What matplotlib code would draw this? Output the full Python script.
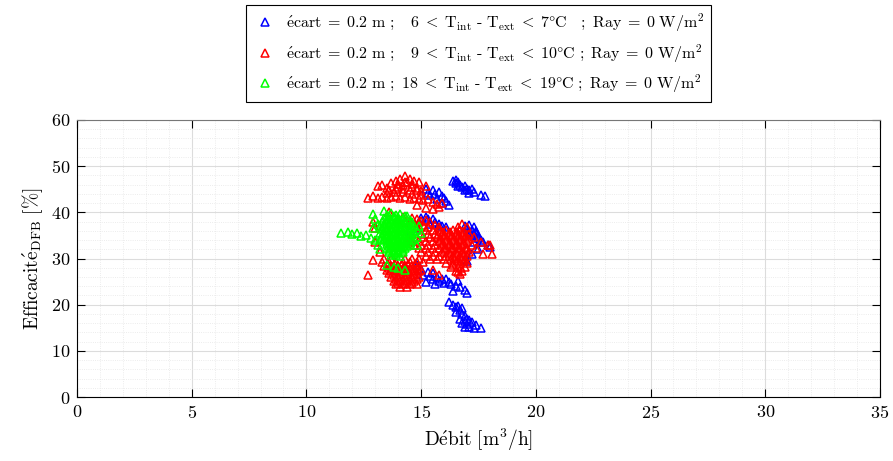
import numpy as np
import matplotlib
matplotlib.use("Agg")
import matplotlib.pyplot as plt

blue_pts = [
    (16.4, 46.8), (16.5, 47.0), (16.5, 46.3), (16.6, 46.5), (16.7, 46.0), (16.8, 45.5),
    (16.9, 45.6), (17.0, 45.0), (17.1, 44.8), (17.2, 45.1), (17.3, 44.3), (17.6, 43.8),
    (17.8, 43.5), (16.6, 45.8), (16.9, 44.9), (17.1, 44.2),
    (15.2, 45.0), (15.4, 43.8), (15.5, 44.8), (15.6, 44.0), (15.7, 42.8), (15.8, 44.5),
    (15.9, 43.5), (16.0, 43.0), (16.1, 42.5), (16.2, 41.5), (15.3, 44.2), (15.9, 42.0),
    (15.0, 38.8), (15.2, 39.0), (15.3, 38.5), (15.4, 37.5), (15.5, 38.6), (15.6, 38.0),
    (15.8, 37.5), (15.9, 37.0), (16.1, 36.8), (14.5, 36.0), (14.8, 36.5),
    (16.9, 37.0), (17.0, 36.5), (17.1, 37.2), (17.2, 36.2), (17.3, 36.8), (17.4, 35.5),
    (17.2, 35.0), (17.5, 34.5), (17.6, 34.0), (17.7, 33.5), (17.9, 33.0), (18.0, 32.5),
    (17.3, 33.5), (17.5, 32.0), (17.2, 31.0), (16.9, 30.0), (17.0, 29.5), (17.4, 36.0),
    (17.1, 35.8), (17.3, 35.2), (17.5, 35.0),
    (14.8, 28.5), (15.0, 27.8), (15.1, 26.5), (15.3, 27.0), (15.4, 26.2), (15.5, 25.5),
    (15.7, 26.0), (15.8, 25.2), (15.9, 25.5), (16.0, 24.8), (16.2, 25.0), (16.3, 24.5),
    (16.5, 24.0), (16.7, 23.8), (16.9, 23.2), (17.0, 22.5), (16.4, 23.0), (15.2, 25.0),
    (15.6, 24.5), (16.6, 25.2), (15.5, 26.8), (16.1, 25.6),
    (16.2, 20.5), (16.4, 20.0), (16.5, 19.5), (16.6, 19.8), (16.7, 18.8), (16.8, 18.0),
    (16.9, 17.5), (16.9, 16.5), (17.0, 17.0), (17.0, 15.8), (17.1, 15.2), (17.2, 16.2),
    (17.3, 15.0), (17.4, 15.5), (17.6, 15.0), (16.7, 17.0), (16.5, 18.5), (16.8, 16.0),
    (16.8, 19.2), (17.1, 16.6), (16.9, 15.2),
]

red_pts = [
    # upper group
    (12.7, 43.2), (12.9, 43.5), (13.1, 43.1), (13.3, 43.4), (13.5, 43.0), (13.7, 43.3),
    (13.9, 43.6), (14.1, 43.1), (14.3, 43.4), (14.5, 42.9), (14.7, 43.2), (14.9, 42.8),
    (15.1, 42.6), (15.3, 42.9), (15.5, 42.2), (15.7, 41.8), (15.9, 42.0), (14.8, 41.5),
    (15.2, 41.0), (15.5, 40.8), (15.8, 41.2),
    (13.1, 45.6), (13.3, 46.0), (13.5, 45.2), (13.7, 46.3), (13.9, 46.8), (14.0, 45.5),
    (14.1, 47.2), (14.2, 46.0), (14.3, 47.8), (14.4, 46.5), (14.5, 47.3), (14.6, 45.5),
    (14.7, 46.8), (14.8, 45.2), (14.9, 46.5), (15.0, 44.6), (15.2, 45.8), (13.8, 44.5),
    (14.2, 44.3), (14.6, 44.0), (15.0, 43.8), (13.5, 44.2),
    (13.6, 44.9), (13.9, 45.1), (14.2, 45.0), (14.5, 44.8), (14.8, 44.9), (14.0, 46.2),
    (14.3, 46.6), (14.6, 46.2),
    # middle group
    (14.0, 38.6), (14.2, 38.9), (14.4, 38.4), (14.6, 38.8), (14.8, 38.5), (15.0, 38.2),
    (15.2, 38.4), (15.4, 37.8), (15.6, 37.2), (15.8, 36.8), (16.8, 37.5), (16.6, 36.8),
    (17.0, 36.9),
    (15.2, 36.2), (15.5, 36.2), (15.8, 36.2), (16.1, 36.2), (16.4, 36.2), (16.7, 36.2),
    (14.6, 35.4), (15.0, 35.4), (15.3, 35.4), (15.6, 35.4), (15.9, 35.4), (16.2, 35.4),
    (16.5, 35.4), (16.8, 35.4), (17.1, 35.4),
    (14.5, 34.6), (14.8, 34.6), (15.1, 34.6), (15.4, 34.6), (15.7, 34.6), (16.0, 34.6),
    (16.3, 34.6), (16.6, 34.6), (16.9, 34.6), (17.3, 34.6),
    (14.6, 33.8), (14.9, 33.8), (15.2, 33.8), (15.5, 33.8), (15.8, 33.8), (16.1, 33.8),
    (16.4, 33.8), (16.7, 33.8), (17.0, 33.8), (17.6, 33.6),
    (14.7, 33.0), (15.0, 33.0), (15.3, 33.0), (15.6, 33.0), (15.9, 33.0), (16.2, 33.0),
    (16.5, 33.0), (16.8, 33.0), (17.2, 33.0), (17.9, 33.0),
    (14.9, 32.2), (15.2, 32.2), (15.5, 32.2), (15.8, 32.2), (16.1, 32.2), (16.4, 32.2),
    (16.7, 32.2), (17.0, 32.2), (17.4, 32.2),
    (15.0, 31.4), (15.3, 31.4), (15.6, 31.4), (15.9, 31.4), (16.2, 31.4), (16.5, 31.4),
    (16.8, 31.4), (17.1, 31.4), (17.7, 31.0), (18.1, 31.0),
    (15.2, 30.6), (15.5, 30.6), (15.8, 30.6), (16.1, 30.6), (16.4, 30.6), (16.7, 30.6),
    (17.0, 30.6), (15.4, 29.8), (15.7, 29.8), (16.0, 29.8), (16.3, 29.8), (16.6, 29.8),
    (16.9, 29.8), (16.1, 29.0), (16.4, 29.0), (16.7, 29.0), (17.0, 29.0), (16.3, 28.2),
    (16.6, 28.2), (16.9, 28.2), (16.5, 27.4), (16.8, 27.4), (16.7, 26.6),
    (15.95, 35.8), (16.25, 35.8), (16.55, 35.8), (16.85, 35.8), (15.75, 35.0), (16.05, 35.0),
    (16.35, 35.0), (16.65, 35.0), (16.95, 35.0), (15.85, 34.2), (16.15, 34.2), (16.45, 34.2),
    (16.75, 34.2), (17.1, 34.2), (15.95, 33.4), (16.25, 33.4), (16.55, 33.4), (16.85, 33.4),
    (16.05, 32.6), (16.35, 32.6), (16.65, 32.6), (16.95, 32.6), (16.05, 31.8), (16.35, 31.8),
    (16.65, 31.8), (16.95, 31.8), (16.25, 31.0), (16.55, 31.0), (16.85, 31.0), (16.45, 30.2),
    (16.75, 30.2), (16.55, 29.4), (16.85, 29.4), (16.75, 27.9), (16.6, 27.0),
    (14.3, 37.9), (14.6, 37.6), (14.9, 37.8), (15.1, 37.2), (15.3, 36.9), (14.8, 36.8),
    # lower group
    (13.4, 30.0), (13.7, 30.0), (14.3, 30.0), (14.6, 30.0), (14.9, 30.0),
    (13.3, 29.2), (13.6, 29.2), (13.9, 29.2), (14.2, 29.2), (14.5, 29.2), (14.8, 29.2),
    (15.1, 29.2), (13.4, 28.4), (13.7, 28.4), (14.0, 28.4), (14.3, 28.4), (14.6, 28.4),
    (14.9, 28.4), (13.5, 27.6), (13.8, 27.6), (14.1, 27.6), (14.4, 27.6), (14.7, 27.6),
    (15.0, 27.6), (13.6, 26.8), (13.9, 26.8), (14.2, 26.8), (14.5, 26.8), (14.8, 26.8),
    (13.7, 26.0), (14.0, 26.0), (14.3, 26.0), (14.6, 26.0), (14.9, 26.0), (13.8, 25.2),
    (14.1, 25.2), (14.4, 25.2), (14.7, 25.2), (13.9, 24.4), (14.2, 24.4), (14.5, 24.4),
    (14.8, 24.4), (14.1, 23.8), (14.4, 23.8),
    (13.55, 28.8), (13.85, 28.8), (14.15, 28.8), (14.45, 28.8), (14.75, 28.8), (13.6, 28.0),
    (13.9, 28.0), (14.2, 28.0), (14.5, 28.0), (14.8, 28.0), (13.7, 27.2), (14.0, 27.2),
    (14.3, 27.2), (14.6, 27.2), (14.9, 27.2), (13.8, 26.4), (14.1, 26.4), (14.4, 26.4),
    (14.7, 26.4), (13.9, 25.6), (14.2, 25.6), (14.5, 25.6), (14.8, 25.6), (14.0, 24.8),
    (14.3, 24.8), (14.6, 24.8),
    # scattered
    (12.7, 26.4), (12.9, 29.6), (13.0, 36.6), (12.9, 37.8), (13.2, 31.5), (15.5, 27.5),
    (15.8, 26.5), (16.4, 28.5), (13.0, 33.5), (13.6, 40.0), (18.0, 33.0),
]

green_pts = [
    (13.5, 39.5), (13.7, 39.8), (13.9, 39.4), (14.1, 39.6), (14.4, 39.2),
    (13.4, 38.7), (13.6, 38.6), (13.8, 38.8), (14.0, 38.5), (14.2, 38.7), (14.5, 38.4),
    (13.3, 37.9), (13.5, 37.8), (13.7, 38.0), (13.9, 37.8), (14.1, 37.9), (14.3, 37.7), (14.6, 37.9),
    (13.2, 37.1), (13.4, 37.0), (13.6, 37.2), (13.8, 37.0), (14.0, 37.1), (14.2, 36.9), (14.4, 37.1),
    (14.7, 37.0),
    (13.3, 36.3), (13.5, 36.2), (13.7, 36.4), (13.9, 36.3), (14.1, 36.2), (14.3, 36.4), (14.5, 36.3),
    (14.8, 36.2),
    (13.2, 35.5), (13.4, 35.6), (13.6, 35.4), (13.8, 35.5), (14.0, 35.6), (14.2, 35.4), (14.4, 35.5),
    (14.6, 35.6),
    (13.3, 34.7), (13.5, 34.6), (13.7, 34.8), (13.9, 34.7), (14.1, 34.6), (14.3, 34.8), (14.5, 34.7),
    (14.8, 34.6),
    (13.4, 33.9), (13.6, 34.0), (13.8, 33.8), (14.0, 33.9), (14.2, 34.0), (14.4, 33.8), (14.6, 33.9),
    (13.5, 33.1), (13.7, 33.2), (13.9, 33.0), (14.1, 33.1), (14.3, 33.2), (14.5, 33.0),
    (13.5, 32.3), (13.7, 32.2), (13.9, 32.4), (14.1, 32.3), (14.3, 32.2),
    (13.6, 31.5), (13.8, 31.6), (14.0, 31.4), (14.2, 31.5), (13.7, 30.7), (13.9, 30.8), (14.1, 30.6),
    (13.6, 39.1), (13.8, 39.1), (14.0, 39.0), (14.3, 39.1),
    (13.5, 38.3), (13.7, 38.3), (13.9, 38.2), (14.1, 38.3), (14.4, 38.3),
    (13.4, 37.5), (13.6, 37.5), (13.8, 37.4), (14.0, 37.5), (14.2, 37.5), (14.5, 37.4),
    (13.3, 36.7), (13.5, 36.7), (13.7, 36.6), (13.9, 36.7), (14.1, 36.7), (14.3, 36.6), (14.6, 36.7),
    (13.4, 35.9), (13.6, 35.9), (13.8, 35.8), (14.0, 35.9), (14.2, 35.9), (14.4, 35.8), (14.7, 35.9),
    (13.3, 35.1), (13.5, 35.1), (13.7, 35.0), (13.9, 35.1), (14.1, 35.1), (14.3, 35.0), (14.5, 35.1),
    (13.4, 34.3), (13.6, 34.3), (13.8, 34.2), (14.0, 34.3), (14.2, 34.3), (14.4, 34.2), (14.7, 34.3),
    (13.5, 33.5), (13.7, 33.5), (13.9, 33.4), (14.1, 33.5), (14.3, 33.5), (14.5, 33.4),
    (13.6, 32.7), (13.8, 32.7), (14.0, 32.6), (14.2, 32.7), (14.4, 32.7),
    (13.6, 31.9), (13.8, 31.9), (14.0, 31.8), (14.2, 31.9), (13.8, 31.1), (14.0, 31.1),
    # edges and tail
    (13.0, 38.5), (12.9, 36.5), (13.1, 37.5), (14.9, 37.0), (15.0, 35.5), (14.8, 33.0),
    (13.1, 33.0), (13.2, 32.0), (12.9, 39.7), (13.4, 40.3),
    (11.5, 35.5), (11.8, 35.7), (12.0, 35.2), (12.2, 35.5), (12.4, 34.8), (12.6, 35.0),
    (12.8, 34.5), (13.0, 34.0), (13.2, 34.3),
    (13.5, 28.5), (13.8, 28.2), (14.0, 28.0), (14.3, 27.6),
]

labels = [
    r"$\mathrm{\acute{e}cart\;=\;0.2\ m\ ;\ \ \ 6\;<\;T_{int}\ \text{-}\ T_{ext}\;<\;7\degree C\ \ \ ;\ Ray\;=\;0\ W/m^{2}}$",
    r"$\mathrm{\acute{e}cart\;=\;0.2\ m\ ;\ \ \ 9\;<\;T_{int}\ \text{-}\ T_{ext}\;<\;10\degree C\ ;\ Ray\;=\;0\ W/m^{2}}$",
    r"$\mathrm{\acute{e}cart\;=\;0.2\ m\ ;\ 18\;<\;T_{int}\ \text{-}\ T_{ext}\;<\;19\degree C\ ;\ Ray\;=\;0\ W/m^{2}}$",
]
colors = ["#0000ff", "#ff0000", "#00ff00"]

plt.rcParams["font.family"] = ["cmr10", "DejaVu Serif"]
plt.rcParams["mathtext.fontset"] = "cm"
plt.rcParams["axes.formatter.use_mathtext"] = True

fig = plt.figure(figsize=(8.93, 4.61), dpi=100)
ax = fig.add_axes([0.0862, 0.1388, 0.8992, 0.6009])

for pts, c, lab in zip([blue_pts, red_pts, green_pts], colors, labels):
    x, y = np.array(pts).T
    ax.plot(x, y, ls="none", marker="^", ms=6, mfc="none", mec=c, mew=1.1, label=lab)

ax.set_xlim(0, 35)
ax.set_ylim(0, 60)
ax.set_xticks(np.arange(0, 36, 5))
ax.set_yticks(np.arange(0, 61, 10))
ax.set_xticks(np.arange(0, 36, 1), minor=True)
ax.set_yticks(np.arange(0, 61, 2), minor=True)
ax.grid(True, which="major", color="#dcdcdc", lw=0.8)
ax.grid(True, which="minor", color="#e6e6e6", lw=0.6, ls=":")
ax.set_axisbelow(True)
ax.tick_params(which="major", direction="in", length=6, width=0.8,
               top=True, right=True, labelsize=13, pad=5)
ax.tick_params(which="minor", length=0)
for s in ax.spines.values():
    s.set_linewidth(0.8)
    s.set_color("black")
ax.spines["top"].set_color("#777777")

ax.set_xlabel(r"$\mathrm{D\acute{e}bit\ [m^3/h]}$", fontsize=14)
ax.set_ylabel(r"$\mathrm{Efficacit\acute{e}_{DFB}\ [\%]}$", fontsize=14)

leg = fig.legend(loc="upper center", bbox_to_anchor=(0.536, 1.006), fontsize=11.5,
                 frameon=True, fancybox=False, edgecolor="black", framealpha=1,
                 borderpad=0.4, labelspacing=0.5, handletextpad=0.5, handlelength=1.6,
                 markerscale=0.9)
leg.get_frame().set_linewidth(0.8)

fig.savefig("out.png", dpi=100)
